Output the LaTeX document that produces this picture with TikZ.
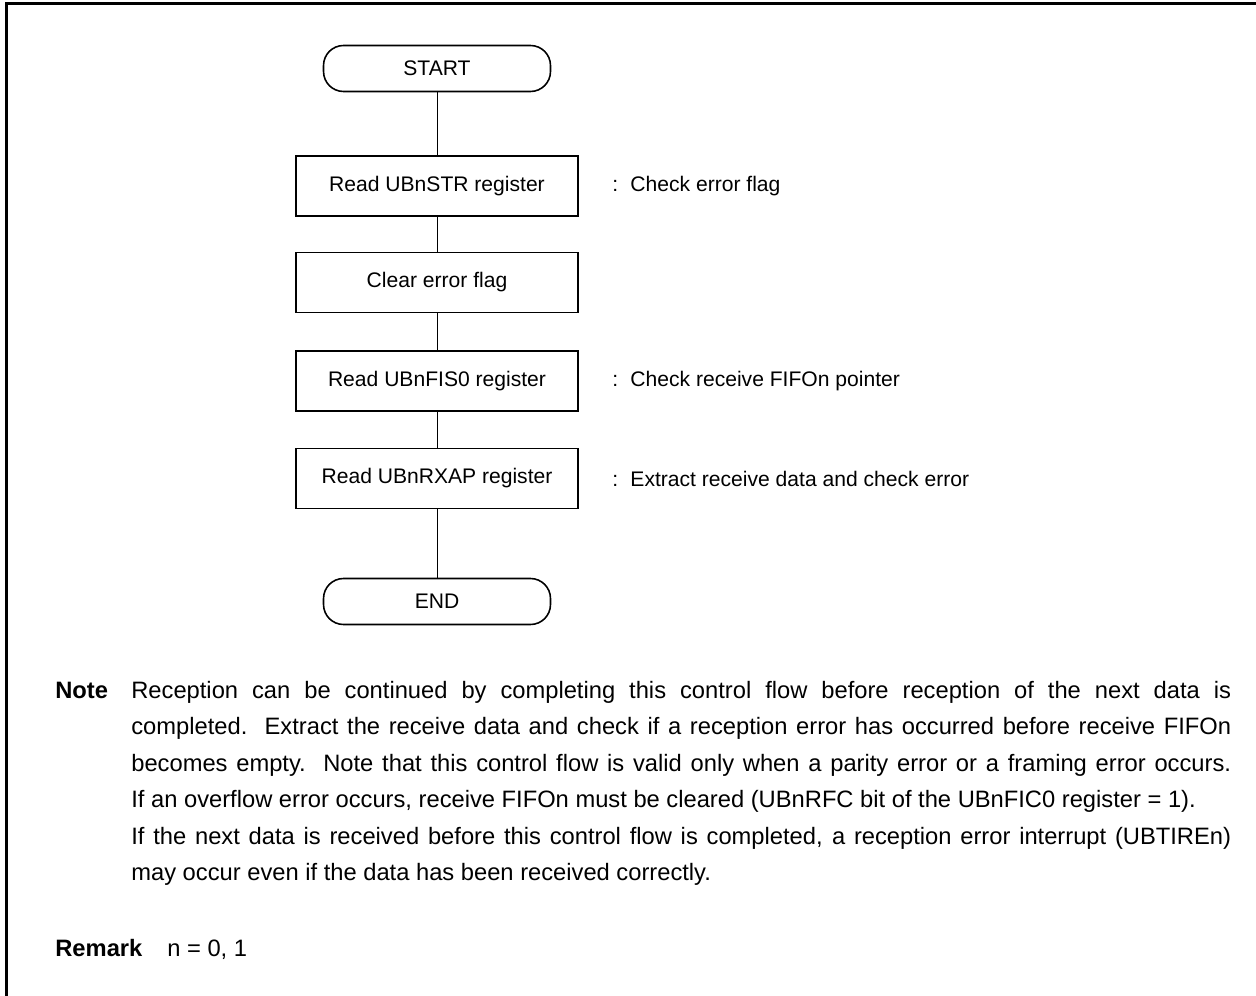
\documentclass[tikz,border=0pt]{standalone}
\usepackage{fontspec}
\setmainfont{Liberation Sans}
\usetikzlibrary{positioning}

\begin{document}
\begin{tikzpicture}[x=0.02cm, y=-0.02cm,
    every node/.style={font=\fontsize{12}{14}\selectfont},
    terminal/.style={draw, line width=0.9pt, rounded corners=0.4cm,
        minimum width=4.54cm, minimum height=0.92cm, inner sep=0pt},
    process/.style={draw, line width=1.1pt,
        minimum width=5.64cm, minimum height=1.2cm, inner sep=0pt},
    comment/.style={anchor=west, inner sep=0pt},
    flow/.style={line width=0.5pt},
    para/.style={font=\fontsize{13.5}{20.8}\selectfont, inner sep=0pt, anchor=base west},
    parahead/.style={para, font=\fontsize{13.5}{20.8}\selectfont\bfseries}]

    \useasboundingbox (0,0) rectangle (1256,996);

    % ---- Frame (open at right and bottom) ----
    \draw[line width=1.6pt] (1256,3.5) -- (6.5,3.5) -- (6.5,996);

    % ---- Flowchart ----
    \node[terminal] (start)   at (437,68.5)  {START};
    \node[process]  (rdstr)   at (437,186)   {Read UBnSTR register};
    \node[process]  (clrflag) at (437,282.5) {Clear error flag};
    \node[process]  (rdfis)   at (437,381)   {Read UBnFIS0 register};
    \node[process]  (rdrxap)  at (437,478.5) {Read UBnRXAP register};
    \node[terminal] (fin)     at (437,601.5) {END};

    \draw[flow] (start) -- (rdstr);
    \draw[flow] (rdstr) -- (clrflag);
    \draw[flow] (clrflag) -- (rdfis);
    \draw[flow] (rdfis) -- (rdrxap);
    \draw[flow] (rdrxap) -- (fin);

    % Comments
    \node[comment, right=0.66cm of rdstr]  (cmstr) {:\hspace{7pt}Check error flag};
    \node[comment, right=0.66cm of rdfis]  (cmfis) {:\hspace{7pt}Check receive FIFOn pointer};
    \node[comment, right=0.66cm of rdrxap] (cmrxap) {:\hspace{7pt}Extract receive data and check error};

    % ---- Note ----
    \node[parahead] (notehead) at (55,698) {Note};
    \node[para, text width=22cm, align=justify] (notebody) at (131,698)
        {\tolerance=10000 \hyphenpenalty=10000
        Reception can be continued by completing this control flow before reception of the next data is\linebreak
        completed.\ \ Extract the receive data and check if a reception error has occurred before receive FIFOn\linebreak
        becomes empty.\ \ Note that this control flow is valid only when a parity error or a framing error occurs.\linebreak
        If an overflow error occurs, receive FIFOn must be cleared (UBnRFC bit of the UBnFIC0 register = 1).\newline
        If the next data is received before this control flow is completed, a reception error interrupt (UBTIREn)\linebreak
        may occur even if the data has been received correctly.};

    % ---- Remark ----
    \node[parahead] (remhead) at (55,956) {Remark};
    \node[para] (remval) at (167,956) {n = 0, 1};
\end{tikzpicture}
\end{document}
